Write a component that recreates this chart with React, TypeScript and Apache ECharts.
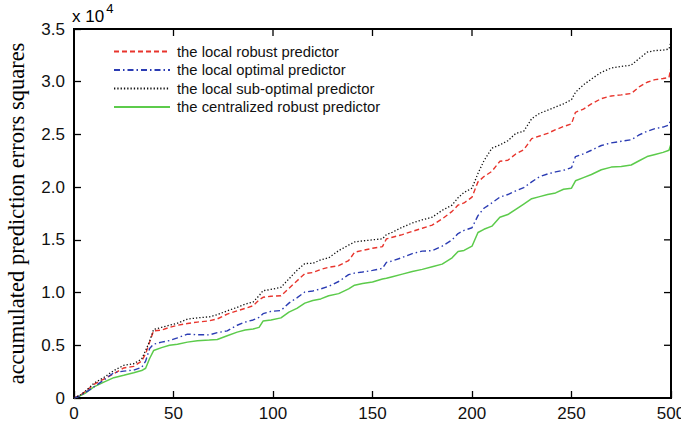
import React, { useEffect, useRef } from "react";
import * as echarts from "echarts";

const xs = [0, 3, 6, 10, 15, 20, 25, 30, 34, 36, 38, 40, 44, 48, 52, 57, 62, 68, 72, 77, 82, 86, 90, 93, 95, 99, 104, 108, 112, 116, 120, 124, 128, 133, 138, 141, 145, 150, 155, 157, 160, 165, 170, 175, 180, 185, 190, 193, 196, 200, 203, 206, 210, 214, 218, 222, 226, 230, 234, 238, 242, 246, 250, 252, 256, 260, 265, 270, 275, 280, 284, 288, 292, 296, 299, 300];

const robust = [0, 250, 650, 1300, 1800, 2300, 2850, 3000, 3500, 4200, 5300, 6370, 6440, 6700, 6900, 7070, 7200, 7320, 7500, 7960, 8270, 8500, 8750, 9300, 9550, 9650, 9700, 10400, 11100, 11800, 11900, 12200, 12400, 12550, 13030, 13820, 14000, 14200, 14360, 15090, 15250, 15500, 15800, 16100, 16400, 16990, 17700, 18300, 18500, 19050, 20500, 21000, 21500, 22450, 22550, 23150, 23550, 24600, 24850, 25100, 25450, 25750, 26000, 27100, 27400, 27900, 28400, 28650, 28750, 28880, 29510, 29950, 30200, 30300, 30400, 31400];

const optimal = [0, 200, 550, 1050, 1700, 2400, 2550, 2650, 2900, 3500, 4700, 5100, 5300, 5450, 5700, 6060, 6000, 5990, 6200, 6370, 6900, 7200, 7400, 7650, 8000, 8220, 8300, 9000, 9500, 10050, 10150, 10350, 10600, 11050, 11700, 11850, 11950, 12100, 12300, 12870, 13000, 13330, 13700, 13930, 13980, 14400, 15000, 15600, 15900, 16150, 17300, 18000, 18500, 19050, 19300, 19650, 19950, 20500, 21000, 21250, 21450, 21600, 21850, 22900, 23150, 23500, 23950, 24200, 24350, 24500, 24950, 25300, 25550, 25700, 25900, 26500];

const subOptimal = [0, 250, 700, 1400, 1950, 2600, 3100, 3250, 3700, 4500, 5400, 6500, 6700, 6900, 7100, 7480, 7600, 7700, 7900, 8270, 8600, 8900, 9100, 9700, 10180, 10300, 10500, 11300, 12100, 12750, 12780, 13100, 13300, 13980, 14500, 14800, 14900, 15000, 15100, 15500, 15720, 16200, 16600, 16900, 17150, 17800, 18300, 19000, 19500, 19900, 21300, 22500, 23700, 24000, 24400, 25100, 25300, 26500, 27000, 27300, 27610, 27900, 28300, 29000, 29700, 30250, 30900, 31300, 31450, 31570, 32200, 32800, 32950, 33000, 33100, 33800];

const centralized = [0, 200, 500, 1050, 1500, 1930, 2160, 2400, 2600, 2820, 3750, 4500, 4780, 5000, 5100, 5300, 5420, 5490, 5550, 5900, 6250, 6450, 6550, 6700, 7300, 7400, 7600, 8150, 8500, 9000, 9250, 9400, 9700, 9900, 10350, 10700, 10850, 11000, 11290, 11350, 11500, 11750, 12000, 12200, 12450, 12700, 13300, 13900, 14000, 14400, 15700, 16000, 16300, 17150, 17400, 17900, 18400, 18900, 19100, 19300, 19450, 19800, 19900, 20600, 20900, 21200, 21650, 21900, 21950, 22100, 22500, 22900, 23100, 23300, 23500, 24100];

const seriesNames = [
  "the local robust predictor",
  "the local optimal predictor",
  "the local sub-optimal predictor",
  "the centralized robust predictor",
];

const xTickValues = [0, 50, 100, 150, 200, 250, 300];
const xTickLabels = ["0", "50", "100", "150", "200", "250", "500"];
const yTickValues = [0, 5000, 10000, 15000, 20000, 25000, 30000, 35000];

const FONT = "'Liberation Sans', Arial, Helvetica, sans-serif";

const W = 681;
const H = 428;
const GRID = { left: 74, right: 10, top: 29, bottom: 30 };

export default function App() {
  const ref = useRef<HTMLDivElement>(null);

  useEffect(() => {
    if (!ref.current) return;
    const chart = echarts.init(ref.current, null, { renderer: "svg", width: W, height: H });
    const pair = (ys: number[]) => xs.map((x, i) => [x, ys[i]]);

    const axisLine = () => ({ show: true, onZero: false, lineStyle: { color: "#000", width: 2 } });
    const axisTick = () => ({ show: true, inside: true, length: 7, lineStyle: { color: "#000", width: 1.3 } });

    const gx0 = GRID.left;
    const gy0 = GRID.top;
    const gx1 = W - GRID.right;
    const gy1 = H - GRID.bottom;

    const exponentText = {
      type: "text",
      left: 72,
      top: 2,
      style: {
        text: "{a|x 10}{b|4}",
        rich: {
          a: { fontFamily: FONT, fontSize: 17, color: "#111", padding: [9, 0, 0, 0] },
          b: { fontFamily: FONT, fontSize: 13, color: "#111", padding: [0, 0, 7, 2] },
        },
      },
    };

    // top and right frame edges as thin filled bars (fill instead of stroke)
    const bar = (x: number, y: number, w: number, h: number) => ({
      type: "rect",
      shape: { x, y, width: w, height: h },
      style: { fill: "#000" },
      silent: true,
      z: 100,
    });

    const frame: any[] = [
      bar(gx0 - 1, gy0 - 1, gx1 - gx0 + 2, 2),
      bar(gx1 - 1, gy0 - 1, 2, gy1 - gy0 + 2),
      ...xTickValues.map((v) => bar(gx0 + ((gx1 - gx0) * v) / 300 - 0.65, gy0, 1.3, 7)),
      ...yTickValues.map((v) => bar(gx1 - 7, gy1 - ((gy1 - gy0) * v) / 35000 - 0.65, 7, 1.3)),
    ];

    chart.setOption({
      animation: false,
      backgroundColor: "#fff",
      grid: {
        ...GRID,
        containLabel: false,
        outerBoundsMode: "none",
        show: true,
        borderColor: "#000",
        borderWidth: 2,
        backgroundColor: "rgba(255,255,255,0)",
      },
      legend: {
        show: true,
        orient: "vertical",
        left: 113,
        top: 44,
        padding: 0,
        itemWidth: 56,
        itemHeight: 12,
        itemGap: 3.5,
        itemStyle: { color: "rgba(0,0,0,0)", borderWidth: 0, opacity: 0 },
        textStyle: { fontFamily: FONT, fontSize: 14.8, color: "#111", padding: [0, 0, 0, 2] },
        data: seriesNames,
      },
      xAxis: {
        type: "value",
        min: 0,
        max: 300,
        interval: 50,
        splitLine: { show: false },
        axisLine: axisLine(),
        axisTick: axisTick(),
        axisLabel: {
          show: true,
          fontFamily: FONT,
          fontSize: 17,
          color: "#111",
          margin: 7,
          hideOverlap: false,
          formatter: (v: number) => xTickLabels[xTickValues.indexOf(v)] ?? "",
        },
      },
      yAxis: {
        type: "value",
        min: 0,
        max: 35000,
        interval: 5000,
        splitLine: { show: false },
        axisLine: axisLine(),
        axisTick: axisTick(),
        name: "accumulated prediction errors squares",
        nameLocation: "middle",
        nameGap: 46,
        nameTextStyle: { fontFamily: "'Liberation Serif', 'Times New Roman', serif", fontSize: 22.5, color: "#000" },
        axisLabel: {
          show: true,
          fontFamily: FONT,
          fontSize: 17,
          color: "#111",
          margin: 9,
          formatter: (v: number) => (v === 0 ? "0" : (v / 10000).toFixed(1)),
        },
      },
      graphic: [exponentText, ...frame],
      series: [
        {
          name: seriesNames[0],
          type: "line",
          data: pair(robust),
          symbol: "none",
          lineStyle: { color: "#e8352d", width: 1.4, type: [5, 3] },
          itemStyle: { color: "#e8352d" },
          z: 3,
        },
        {
          name: seriesNames[1],
          type: "line",
          data: pair(optimal),
          symbol: "none",
          lineStyle: { color: "#2b3cb3", width: 1.4, type: [6, 3, 1.5, 3] },
          itemStyle: { color: "#2b3cb3" },
          z: 3,
        },
        {
          name: seriesNames[2],
          type: "line",
          data: pair(subOptimal),
          symbol: "none",
          lineStyle: { color: "#111", width: 1.3, type: [1.3, 2] },
          itemStyle: { color: "#111" },
          z: 4,
        },
        {
          name: seriesNames[3],
          type: "line",
          data: pair(centralized),
          symbol: "none",
          lineStyle: { color: "#5ccb4b", width: 1.5, type: "solid" },
          itemStyle: { color: "#5ccb4b" },
          z: 2,
        },
      ],
    });

    return () => chart.dispose();
  }, []);

  return (
    <div
      ref={ref}
      style={{ position: "fixed", left: 0, top: 0, width: W, height: H }}
    />
  );
}
